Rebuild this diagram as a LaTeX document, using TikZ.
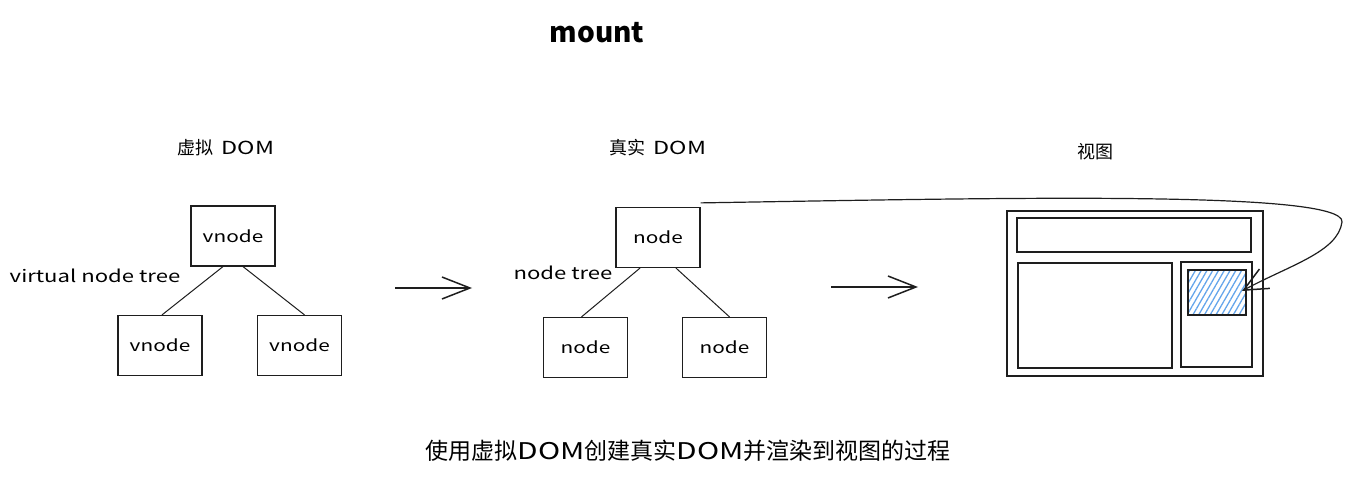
\documentclass[tikz,border=0pt]{standalone}
\usepackage{fontspec}
\setmainfont{Noto Sans CJK SC}
\newfontfamily\hand[FakeStretch=1.3]{Noto Sans CJK SC}
\usetikzlibrary{patterns.meta,arrows.meta}
\definecolor{hatch}{RGB}{100,165,235}
\definecolor{ink}{RGB}{30,30,30}
\begin{document}
\begin{tikzpicture}[x=1pt,y=-1pt,
  box/.style={draw=ink,line width=1.2pt,minimum width=84pt,minimum height=60pt,inner sep=0pt,font=\hand\fontsize{16}{18}\selectfont},
  edge/.style={draw=ink,line width=1pt},
  label/.style={font=\fontsize{18}{20}\selectfont,inner sep=0pt},
  frame/.style={draw=ink,line width=1.4pt},
  flow/.style={draw=ink,line width=1.1pt,-{Straight Barb[length=28pt,width=22pt,line width=1.5pt]}}]
\useasboundingbox (0,0) rectangle (1353,481);
% titles
\node[font=\fontsize{28}{30}\selectfont\bfseries,inner sep=0pt] (title) at (597,33) {mount};
\node[label] (vdom) at (226,148) {虚拟\hspace{8pt}{\hand DOM}};
\node[label] (rdom) at (658,148) {真实\hspace{8pt}{\hand DOM}};
\node[label] (view) at (1095,152) {视图};
% virtual tree
\node[box] (v1) at (233,236) {vnode};
\node[box] (v2) at (160,345.5) {vnode};
\node[box] (v3) at (299.5,345.5) {vnode};
\draw[edge] ([xshift=-10pt]v1.south) -- ([xshift=2pt]v2.north);
\draw[edge] ([xshift=10pt]v1.south) -- ([xshift=5pt]v3.north);
\node[font=\hand\fontsize{17}{19}\selectfont,inner sep=0pt] (vtree) at (95,276) {virtual node tree};
% real tree
\node[box] (n1) at (658,237.5) {node};
\node[box] (n2) at (585.5,347.5) {node};
\node[box] (n3) at (724.5,347.5) {node};
\draw[edge] ([xshift=-18pt]n1.south) -- ([xshift=-4pt]n2.north);
\draw[edge] ([xshift=18pt]n1.south) -- ([xshift=5pt]n3.north);
\node[font=\hand\fontsize{17}{19}\selectfont,inner sep=0pt] (ntree) at (563,273) {node tree};
% flow arrows
\coordinate (a1s) at (395,288);
\coordinate (a1e) at (472,288);
\coordinate (a2s) at (831,287);
\coordinate (a2e) at (918,287);
\draw[flow] (a1s) -- (a1e);
\draw[flow] (a2s) -- (a2e);
% view
\node[frame,minimum width=256pt,minimum height=165pt,inner sep=0pt] (outer) at (1135,293.5) {};
\node[frame,minimum width=234pt,minimum height=34pt,inner sep=0pt] (topbar) at (1134,235) {};
\node[frame,minimum width=154pt,minimum height=105pt,inner sep=0pt] (leftp) at (1095,315.5) {};
\node[frame,minimum width=71pt,minimum height=105pt,inner sep=0pt] (rightp) at (1216.5,314.5) {};
\node[draw=ink,line width=1.2pt,pattern={Lines[angle=60,distance=5pt,line width=1.3pt]},pattern color=hatch,minimum width=58pt,minimum height=45pt,inner sep=0pt] (hl) at (1217,292.5) {};
% connector from node to view
\coordinate (tip) at (1242,291);
\draw[ink,line width=1.2pt,-{Straight Barb[length=24pt,width=22pt,line width=1.5pt]}] (n1.north east) ++(0,4pt) .. controls (1000,198) and (1345,190) .. (1342,222) .. controls (1338,252) and (1290,265) .. (tip);
% caption
\node[font=\fontsize{23}{25}\selectfont,inner sep=0pt] (cap) at (688,451) {使用虚拟{\hand DOM}创建真实{\hand DOM}并渲染到视图的过程};
\end{tikzpicture}
\end{document}
